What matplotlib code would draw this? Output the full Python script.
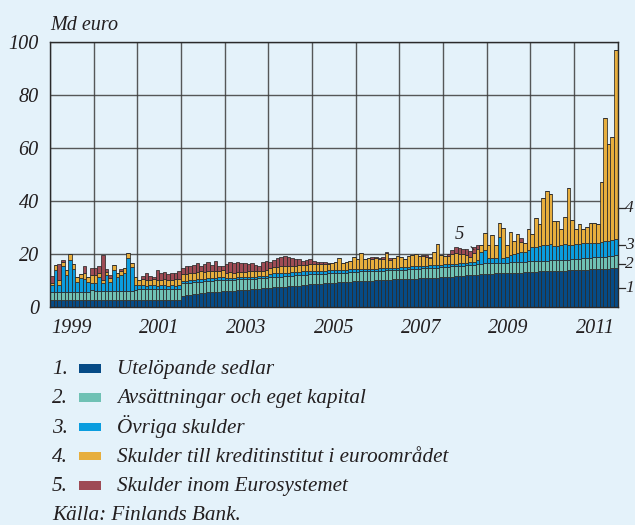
import matplotlib
matplotlib.use("Agg")
import matplotlib.pyplot as plt
import matplotlib.transforms as mtransforms
from matplotlib.patches import Rectangle
import numpy as np

# ---------------- data (Md euro, monthly Jan 1999 - Dec 2011) ----------------
years = list(range(1999, 2012))
year_labels = ["1999", "2001", "2003", "2005", "2007", "2009", "2011"]

notes = [  # 1. Utelöpande sedlar
    2.6, 2.6, 2.6, 2.6, 2.6, 2.6, 2.6, 2.6, 2.6, 2.6, 2.6, 2.8,
    2.6, 2.6, 2.6, 2.6, 2.6, 2.6, 2.6, 2.6, 2.6, 2.6, 2.6, 2.7,
    2.6, 2.6, 2.6, 2.6, 2.6, 2.6, 2.6, 2.6, 2.6, 2.6, 2.6, 2.6,
    4.3, 4.5, 4.7, 4.9, 5.0, 5.2, 5.3, 5.5, 5.6, 5.7, 5.8, 6.0,
    6.0, 6.1, 6.2, 6.3, 6.4, 6.5, 6.6, 6.7, 6.8, 6.9, 7.0, 7.2,
    7.3, 7.4, 7.5, 7.6, 7.7, 7.8, 7.9, 8.0, 8.1, 8.2, 8.3, 8.5,
    8.6, 8.7, 8.8, 8.9, 9.0, 9.1, 9.2, 9.3, 9.4, 9.5, 9.6, 9.8,
    9.7, 9.8, 9.9, 10.0, 10.0, 10.1, 10.2, 10.2, 10.3, 10.3, 10.4, 10.6,
    10.5, 10.5, 10.6, 10.7, 10.7, 10.8, 10.9, 10.9, 11.0, 11.0, 11.1, 11.3,
    11.3, 11.4, 11.5, 11.6, 11.7, 11.8, 11.9, 12.0, 12.1, 12.2, 12.3, 12.6,
    12.6, 12.6, 12.7, 12.7, 12.8, 12.8, 12.9, 12.9, 13.0, 13.0, 13.1, 13.3,
    13.3, 13.3, 13.4, 13.4, 13.5, 13.5, 13.6, 13.6, 13.7, 13.7, 13.8, 14.0,
    14.0, 14.0, 14.1, 14.1, 14.2, 14.2, 14.3, 14.4, 14.4, 14.5, 14.6, 14.8,
]
provisions = [  # 2. Avsättningar och eget kapital
    3.2, 3.2, 3.2, 3.2, 3.2, 3.2, 3.2, 3.2, 3.2, 3.2, 3.2, 3.6,
    3.6, 3.6, 3.6, 3.6, 3.6, 3.6, 3.6, 3.6, 3.6, 3.6, 3.6, 3.6,
    4.2, 4.2, 4.2, 4.2, 4.2, 4.2, 4.2, 4.2, 4.2, 4.2, 4.2, 4.2,
    4.6, 4.5, 4.5, 4.4, 4.5, 4.4, 4.4, 4.4, 4.4, 4.4, 4.4, 4.3,
    4.2, 4.2, 4.1, 4.1, 4.1, 4.0, 4.0, 4.0, 3.9, 3.9, 3.9, 3.8,
    4.0, 4.0, 3.9, 3.9, 3.9, 3.9, 3.9, 3.9, 3.9, 3.9, 3.9, 3.8,
    3.7, 3.7, 3.7, 3.7, 3.7, 3.6, 3.6, 3.6, 3.5, 3.5, 3.5, 3.4,
    3.6, 3.6, 3.5, 3.5, 3.5, 3.5, 3.5, 3.5, 3.5, 3.5, 3.5, 3.4,
    3.6, 3.6, 3.6, 3.6, 3.7, 3.7, 3.7, 3.7, 3.7, 3.8, 3.8, 3.7,
    3.8, 3.8, 3.8, 3.8, 3.8, 3.8, 3.8, 3.8, 3.8, 3.9, 3.9, 3.9,
    3.9, 3.9, 3.9, 3.9, 3.9, 3.9, 3.9, 3.9, 3.9, 4.0, 4.0, 4.0,
    4.0, 4.1, 4.0, 4.1, 4.0, 4.1, 4.0, 4.1, 4.1, 4.1, 4.1, 4.1,
    4.2, 4.3, 4.3, 4.4, 4.4, 4.5, 4.5, 4.5, 4.6, 4.7, 4.8, 5.0,
]
other = [  # 3. Övriga skulder
    2.4, 8.3, 2.4, 9.5, 6.1, 12.1, 8.5, 3.6, 5.3, 4.9, 3.6, 2.5,
    3.0, 5.3, 2.7, 5.8, 3.4, 7.8, 5.0, 5.9, 6.5, 12.2, 8.8, 2.1,
    1.5, 1.4, 1.3, 1.4, 1.4, 1.3, 1.4, 1.4, 1.3, 1.4, 1.3, 1.4,
    1.0, 1.0, 1.0, 1.0, 1.0, 1.0, 1.0, 1.0, 1.0, 1.0, 1.0, 1.0,
    0.8, 0.8, 0.8, 0.8, 0.8, 0.8, 0.8, 0.8, 0.8, 0.8, 0.8, 0.8,
    1.3, 1.3, 1.3, 1.3, 1.3, 1.3, 1.3, 1.3, 1.3, 1.3, 1.3, 1.3,
    1.1, 1.1, 1.1, 1.1, 1.1, 1.1, 1.1, 1.1, 1.1, 1.1, 1.1, 1.1,
    0.9, 0.9, 0.9, 0.9, 0.9, 0.9, 0.9, 0.9, 0.9, 0.9, 0.9, 0.9,
    1.0, 1.0, 1.0, 1.0, 1.0, 1.0, 1.0, 1.0, 1.0, 1.0, 1.0, 1.0,
    1.0, 1.0, 1.0, 1.0, 1.0, 1.0, 1.0, 1.0, 1.2, 1.6, 4.7, 5.0,
    1.9, 1.9, 2.0, 9.9, 1.7, 2.3, 2.8, 3.2, 3.5, 3.6, 3.8, 4.2,
    5.2, 5.4, 5.6, 5.9, 5.9, 6.0, 5.4, 5.5, 5.6, 5.8, 5.5, 5.4,
    5.5, 5.5, 5.6, 5.5, 5.6, 5.5, 5.5, 5.6, 6.0, 5.8, 5.8, 5.7,
]
credit = [  # 4. Skulder till kreditinstitut i euroområdet
    0.8, 1.6, 1.9, 1.7, 2.2, 2.0, 1.8, 1.9, 1.5, 2.1, 1.9, 3.2,
    2.9, 1.3, 1.3, 1.3, 1.5, 1.8, 1.5, 1.3, 1.9, 1.9, 1.5, 2.9,
    2.0, 2.2, 2.0, 2.1, 2.3, 2.0, 2.1, 2.2, 2.0, 2.1, 2.3, 2.2,
    2.4, 2.6, 2.7, 2.5, 2.6, 2.8, 2.6, 2.5, 2.7, 2.6, 2.5, 2.6,
    2.0, 2.2, 1.8, 2.0, 1.9, 1.8, 2.0, 2.2, 2.0, 1.8, 2.0, 2.2,
    2.3, 2.5, 2.4, 2.6, 2.4, 2.3, 2.5, 2.4, 2.6, 2.4, 2.5, 2.6,
    2.9, 2.8, 2.8, 2.7, 2.6, 2.7, 3.0, 4.4, 2.7, 3.0, 3.3, 4.4,
    3.8, 5.9, 3.9, 4.2, 3.9, 3.9, 3.4, 3.5, 5.7, 3.1, 3.8, 4.3,
    3.6, 3.2, 4.0, 4.3, 4.6, 3.7, 3.5, 3.4, 2.8, 5.1, 7.7, 3.6,
    3.1, 3.0, 3.7, 3.8, 3.5, 3.3, 2.8, 2.0, 3.3, 4.2, 2.5, 6.3,
    5.1, 8.6, 4.9, 5.1, 11.3, 4.5, 8.8, 4.8, 7.1, 3.8, 3.4, 7.9,
    5.0, 10.6, 8.5, 17.6, 20.5, 18.9, 9.5, 9.1, 5.9, 10.2, 21.6, 9.2,
    5.6, 7.7, 5.3, 6.3, 7.6, 7.6, 7.2, 22.8, 46.2, 36.4, 38.8, 71.6,
]
eurosystem = [  # 5. Skulder inom Eurosystemet
    2.6, 0.0, 6.0, 0.6, 0.0, 0.0, 0.0, 0.0, 0.0, 2.5, 0.0, 2.5,
    2.5, 2.5, 9.4, 0.9, 0.9, 0.0, 0.0, 0.8, 0.0, 0.0, 0.0, 0.0,
    0.0, 1.3, 2.9, 1.4, 0.9, 3.9, 2.7, 2.9, 2.4, 2.4, 2.3, 3.2,
    2.3, 2.7, 2.4, 3.2, 3.4, 2.2, 2.9, 3.4, 2.1, 3.6, 1.9, 1.5,
    3.2, 3.8, 3.8, 3.7, 3.5, 3.6, 3.0, 3.0, 2.3, 2.1, 3.4, 3.5,
    2.2, 2.6, 3.3, 3.3, 3.9, 3.4, 3.0, 2.6, 2.1, 1.7, 1.8, 1.8,
    1.2, 0.8, 0.5, 0.5, 0.3, 0.0, 0.0, 0.0, 0.0, 0.0, 0.0, 0.0,
    0.0, 0.0, 0.0, 0.0, 0.5, 0.6, 0.6, 0.7, 0.5, 0.6, 0.0, 0.0,
    0.0, 0.0, 0.0, 0.0, 0.0, 0.0, 0.5, 0.6, 0.5, 0.0, 0.0, 0.0,
    0.0, 0.8, 1.5, 2.3, 2.3, 2.1, 2.3, 2.5, 2.1, 1.5, 0.0, 0.0,
    0.0, 0.0, 0.0, 0.0, 0.0, 0.0, 0.0, 0.0, 0.0, 1.5, 0.0, 0.0,
    0.0, 0.0, 0.0, 0.0, 0.0, 0.0, 0.0, 0.0, 0.0, 0.0, 0.0, 0.0,
    0.0, 0.0, 0.0, 0.0, 0.0, 0.0, 0.0, 0.0, 0.0, 0.0, 0.0, 0.0,
]

series_names = [
    "Utelöpande sedlar",
    "Avsättningar och eget kapital",
    "Övriga skulder",
    "Skulder till kreditinstitut i euroområdet",
    "Skulder inom Eurosystemet",
]
series = [notes, provisions, other, credit, eurosystem]
colors = ["#064b86", "#6fc1b4", "#0a9ddf", "#e7ae3d", "#9e4b55"]

# ---------------- figure ----------------
BG = "#e4f2fa"
TXT = "#231f20"
FONT = ["Liberation Serif", "DejaVu Serif"]
FS = 14.5
FS_LEG = 15.2

W, H = 635, 525
fig = plt.figure(figsize=(W / 100, H / 100), dpi=100, facecolor=BG)
ax = fig.add_axes([50 / W, 1 - 307 / H, 567.7 / W, 265 / H], facecolor=BG)

n = len(notes)
x = np.arange(n) + 0.5
bottom = np.zeros(n)
for vals, col in zip(series, colors):
    v = np.array(vals)
    ax.bar(x, v, width=1.0, bottom=bottom, color=col, edgecolor="#2a2a2a",
           linewidth=0.55, zorder=2)
    bottom += v

ax.set_xlim(0, n)
ax.set_ylim(0, 100)
ax.set_axisbelow(True)

# year boundaries as gridlines, odd-year labels centred in year
ax.set_xticks(np.arange(0, n + 1, 12))
ax.set_xticklabels([])
ax.set_xticks([12 * (int(y) - 1999) + 6 for y in year_labels], minor=True)
ax.set_xticklabels(year_labels, minor=True)
ax.set_yticks([0, 20, 40, 60, 80, 100])
ax.set_yticklabels(["0", "20", "40", "60", "80", "100"])
ax.tick_params(axis="both", which="both", length=0)
ax.tick_params(axis="y", pad=8)
ax.tick_params(axis="x", which="minor", pad=8.5)
for lab in ax.get_xticklabels(minor=True) + ax.get_yticklabels():
    lab.set_fontfamily(FONT)
    lab.set_fontstyle("italic")
    lab.set_fontsize(FS)
    lab.set_color(TXT)

ax.grid(True, which="major", color="#3c3c3c", linewidth=1.0, alpha=0.85)
for sp in ax.spines.values():
    sp.set_color("#2a2a2a")
    sp.set_linewidth(1.0)

# right-hand series markers
trans = mtransforms.blended_transform_factory(ax.transAxes, ax.transData)
for lbl, yv in [("4", 37.2), ("3", 23.5), ("2", 16.4), ("1", 7.2)]:
    ax.plot([1.0, 1.0125], [yv, yv], transform=trans, color="#2a2a2a",
            linewidth=0.9, clip_on=False)
    ax.text(1.0135, yv, lbl, transform=trans, ha="left", va="center",
            fontfamily=FONT, fontstyle="italic", fontsize=12.5, color=TXT,
            clip_on=False)

# "5" annotation
ax.annotate("5", xy=(116.5, 21.6), xytext=(112.6, 27.3),
            ha="center", va="center", fontfamily=FONT, fontstyle="italic",
            fontsize=FS - 1, color=TXT,
            arrowprops=dict(arrowstyle="-", color="#2a2a2a", lw=0.8,
                            shrinkA=4, shrinkB=0), zorder=5)

# unit label
fig.text(50 / W, 1 - 30.5 / H, "Md euro", ha="left", va="baseline",
         fontfamily=FONT, fontstyle="italic", fontsize=FS, color=TXT)

# legend
row0 = 374
step = 29.3
for i, (name, col) in enumerate(zip(series_names, colors)):
    yb = row0 + i * step
    fig.text(52 / W, 1 - yb / H, f"{i + 1}.", ha="left", va="baseline",
             fontfamily=FONT, fontstyle="italic", fontsize=FS_LEG, color=TXT)
    fig.patches.append(Rectangle((79 / W, 1 - (yb - 1.5) / H), 22 / W, 8.5 / H,
                                 transform=fig.transFigure, facecolor=col,
                                 edgecolor="none"))
    fig.text(117 / W, 1 - yb / H, name, ha="left", va="baseline",
             fontfamily=FONT, fontstyle="italic", fontsize=FS_LEG, color=TXT)
fig.text(52 / W, 1 - (row0 + 5 * step) / H, "Källa: Finlands Bank.",
         ha="left", va="baseline", fontfamily=FONT, fontstyle="italic",
         fontsize=FS_LEG, color=TXT)

fig.savefig("out.png", dpi=100, facecolor=BG)
